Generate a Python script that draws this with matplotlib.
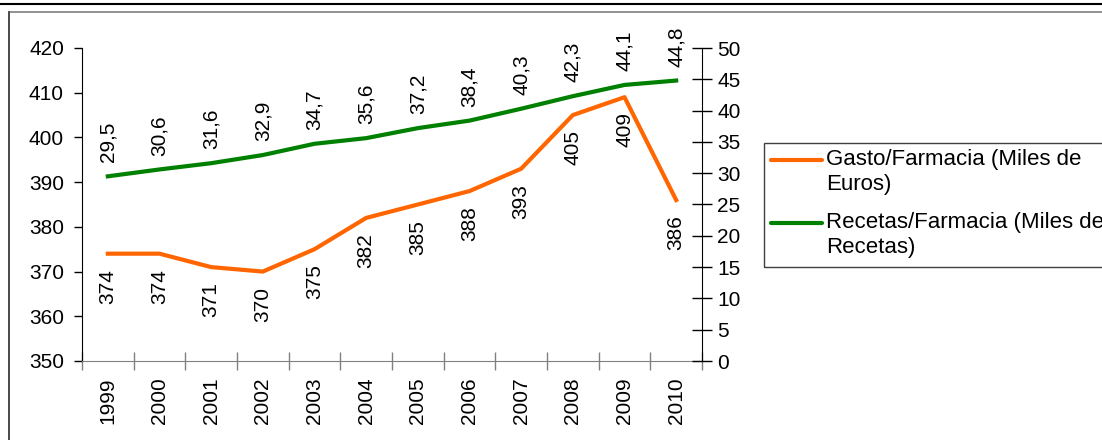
import matplotlib
matplotlib.use("Agg")
import matplotlib.pyplot as plt
from matplotlib.lines import Line2D
from matplotlib.patches import Rectangle

plt.rcParams['font.family'] = ['Liberation Sans', 'DejaVu Sans']

years = ['1999', '2000', '2001', '2002', '2003', '2004', '2005', '2006',
         '2007', '2008', '2009', '2010']
gasto = [374, 374, 371, 370, 375, 382, 385, 388, 393, 405, 409, 386]
recetas = [29.5, 30.6, 31.6, 32.9, 34.7, 35.6, 37.2, 38.4, 40.3, 42.3, 44.1, 44.8]
label_gasto = 'Gasto/Farmacia (Miles de\nEuros)'
label_recetas = 'Recetas/Farmacia (Miles de\nRecetas)'

ORANGE = '#FF6600'
GREEN = '#008000'
FS = 15
FS_LEG = 16

W, H = 1102, 440
fig = plt.figure(figsize=(W / 100, H / 100), dpi=100)


def fx(px):
    return px / W


def fy(py):
    return 1 - py / H


# outer frame lines
fig.add_artist(Line2D([0, 1], [fy(4.5), fy(4.5)], color='black', lw=1.5))
fig.add_artist(Rectangle((fx(9), fy(445)), fx(1200), fy(12.5) - fy(445),
                         fill=False, edgecolor='#7f7f7f', lw=1.2))
fig.add_artist(Line2D([fx(9), fx(9)], [0, fy(12.5)], color='#404040', lw=1.2))

ax = fig.add_axes([fx(82), fy(361), fx(702) - fx(82), fy(48) - fy(361)])
ax2 = ax.twinx()

x = list(range(len(years)))
ax.plot(x, gasto, color=ORANGE, lw=3, solid_joinstyle='round', zorder=3)
ax2.plot(x, recetas, color=GREEN, lw=3, solid_joinstyle='round', zorder=3)

ax.set_xlim(-0.5, len(years) - 0.5)
ax.set_ylim(350, 420)
ax.set_yticks(range(350, 421, 10))
ax2.set_ylim(0, 50)
ax2.set_yticks(range(0, 51, 5))

ax.set_xticks(x)
ax.set_xticklabels(years, rotation=90, fontsize=FS, va='top')
ax.set_xticks([i - 0.5 for i in range(len(years) + 1)], minor=True)
ax.tick_params(axis='x', which='major', length=0, pad=12)
ax.tick_params(axis='x', which='minor', direction='inout', length=13,
               color='#808080', width=1)
ax.tick_params(axis='y', direction='out', length=6, width=1, labelsize=FS, pad=7)
ax2.tick_params(axis='y', direction='inout', length=14, width=1, labelsize=FS, pad=4)

for a in (ax, ax2):
    a.spines['top'].set_visible(False)
    a.patch.set_visible(False)
ax.spines['right'].set_visible(False)
ax2.spines['left'].set_visible(False)
ax2.spines['bottom'].set_visible(False)
ax.spines['bottom'].set_color('#808080')
ax.spines['left'].set_color('black')
ax2.spines['right'].set_color('black')

for xi, v in zip(x, gasto):
    ax.annotate(f'{v:d}', (xi, v), xytext=(0, -11), textcoords='offset points',
                rotation=90, ha='center', va='top', fontsize=FS)
for xi, v in zip(x, recetas):
    ax2.annotate(f'{v:.1f}'.replace('.', ','), (xi, v), xytext=(0, 10),
                 textcoords='offset points', rotation=90, ha='center',
                 va='bottom', fontsize=FS)

# legend box
fig.add_artist(Rectangle((fx(764), fy(267)), fx(1200), fy(143) - fy(267),
                         fill=False, edgecolor='#404040', lw=1))
for color, text, ytop in ((ORANGE, label_gasto, 160), (GREEN, label_recetas, 223)):
    fig.add_artist(Line2D([fx(771), fx(822)], [fy(ytop), fy(ytop)], color=color,
                          lw=3, solid_capstyle='round'))
    fig.text(fx(826), fy(ytop - 11), text, ha='left', va='top', fontsize=FS_LEG,
             linespacing=1.25)

fig.savefig('out.png', dpi=100)
